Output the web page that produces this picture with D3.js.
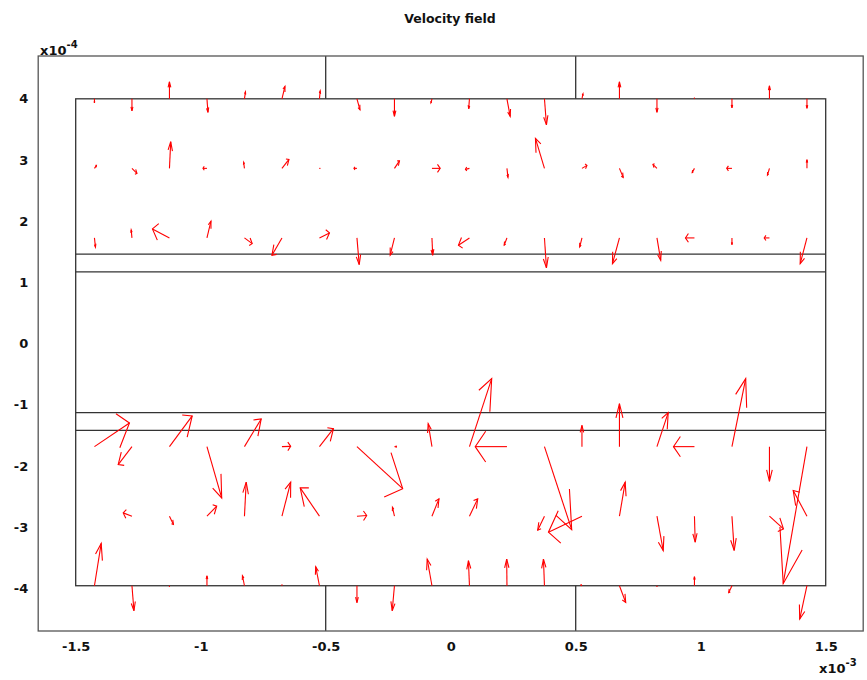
<!DOCTYPE html>
<html><head><meta charset="utf-8">
<script src="https://cdn.jsdelivr.net/npm/d3@7"></script>
<style>body{margin:0;background:#fff}svg{display:block}</style>
</head><body>
<svg id="c" width="867" height="680"></svg>
<script>
// grid (x in 1e-3 m, y in 1e-4 m)
const xCols = [-1.425,-1.275,-1.125,-0.975,-0.825,-0.675,-0.525,-0.375,-0.225,-0.075,0.075,0.225,0.375,0.525,0.675,0.825,0.975,1.125,1.275,1.425];
const yRows = [4, 2.863, 1.726, -1.686, -2.823, -3.96];
// scaled velocity components (1e-4 m), one array per row
const uRow0 = [0,0,0,0.04,0.04,0.12,0.03,0.12,0,-0.04,-0.03,0.13,0.08,0.04,0,0,0,0,0,0];
const vRow0 = [-0.065,-0.196,0.278,-0.221,0.114,0.204,0.131,-0.18,-0.286,-0.065,-0.163,-0.286,-0.425,0.082,0.278,-0.221,0.016,-0.147,0.213,-0.155];
const uRow1 = [0.08,0.2,0.05,-0.16,-0.03,0.28,0.02,-0.12,0.2,0.33,-0.16,0.04,-0.36,0.2,0.15,-0.16,-0.09,-0.21,-0.08,0];
const vRow1 = [0.049,-0.082,0.436,0,0.098,0.147,0,0,0.123,0,-0.016,-0.147,0.49,0.049,-0.147,0.065,-0.07,0,-0.11,0.142];
const uRow2 = [0.04,-0.03,-0.68,0.16,0.31,-0.4,0.4,0.09,-0.17,0.03,-0.44,-0.11,0.08,-0.09,-0.28,0.15,-0.36,0,-0.21,-0.27];
const vRow2 = [-0.152,0.131,0.147,0.273,-0.093,-0.283,0.082,-0.436,-0.283,-0.283,-0.119,-0.119,-0.49,-0.147,-0.42,-0.365,0,-0.11,0,-0.42];
const uRow3 = [1.4,-0.55,0.91,0.59,0.67,0.35,0.56,1.83,0.08,-0.15,0.89,-1.27,1.09,0,0,0.45,-0.84,0.55,0,-0.95];
const vRow3 = [0.387,-0.294,0.502,-0.839,0.453,0.005,0.294,-0.687,0,0.376,1.112,0,-1.357,0.348,0.703,0.556,0,1.112,-0.567,-2.24];
const uRow4 = [0,-0.35,0.16,0.39,0.07,0.35,-0.77,0.39,-0.08,0.28,0.33,0,-0.27,-1.34,0.23,0.25,0.03,0.09,0.56,-0.55];
const vRow4 = [0,0.054,-0.136,0.163,0.556,0.556,0.463,0.011,0.147,0.283,0.283,0,-0.229,-0.262,0.556,-0.561,-0.425,-0.561,-0.208,0.42];
const uRow5 = [0.27,0.08,0,0,-0.08,0,-0.15,0,-0.09,-0.19,-0.04,-0.01,-0.04,-0.04,0.25,0,0,-0.13,0,-0.29];
const vRow5 = [0.692,-0.409,-0.016,0.163,0.163,0.016,0.311,-0.278,-0.409,0.436,0.409,0.436,0.436,0.016,-0.273,-0.016,0.147,-0.114,0,-0.544];
const uRows = [uRow0,uRow1,uRow2,uRow3,uRow4,uRow5];
const vRows = [vRow0,vRow1,vRow2,vRow3,vRow4,vRow5];

// geometry (x in 1e-3, y in 1e-4)
const geoX = [-1.5, 1.5];
const geoY = [-3.96, 4];
const geoLinesY = [1.46, 1.17, -1.13, -1.42];
const geoStubsX = [-0.5, 0.5];

const xTicks = [-1.5,-1,-0.5,0,0.5,1,1.5];
const xTickLabels = ["-1.5","-1","-0.5","0","0.5","1","1.5"];
const yTicks = [-4,-3,-2,-1,0,1,2,3,4];
const yTickLabels = ["-4","-3","-2","-1","0","1","2","3","4"];
const title = "Velocity field";

const svg = d3.select("#c");
const L = 38.2, R = 863.2, T = 56, B = 631;
const x = d3.scaleLinear().domain([-1.65, 1.65]).range([L, R]);
const y = d3.scaleLinear().domain([-4.7, 4.7]).range([B, T]);
const font = "'DejaVu Sans', Verdana, sans-serif";

// geometry lines
const g = svg.append("g").attr("stroke", "#333").attr("stroke-width", 1.3).attr("fill", "none");
g.append("rect").attr("x", x(geoX[0])).attr("y", y(geoY[1]))
  .attr("width", x(geoX[1]) - x(geoX[0])).attr("height", y(geoY[0]) - y(geoY[1]));
geoLinesY.forEach(v => g.append("line").attr("x1", x(geoX[0])).attr("x2", x(geoX[1])).attr("y1", y(v)).attr("y2", y(v)));
geoStubsX.forEach(v => {
  g.append("line").attr("x1", x(v)).attr("x2", x(v)).attr("y1", y(geoY[1])).attr("y2", T);
  g.append("line").attr("x1", x(v)).attr("x2", x(v)).attr("y1", y(geoY[0])).attr("y2", B);
});

// arrows (MATLAB-style quiver heads computed in physical units)
const alpha = 0.33, beta = 0.6;
const ag = svg.append("g").attr("stroke", "#ff0000").attr("stroke-width", 1.1).attr("fill", "none");
yRows.forEach((yr, r) => {
  xCols.forEach((xc, c) => {
    const U = uRows[r][c], V = vRows[r][c];
    if (U === 0 && V === 0) return;
    const bx = xc * 10, by = yr;          // in 1e-4 m
    const tx = bx + U, ty = by + V;
    const h1x = tx - alpha * (U + beta * V), h1y = ty - alpha * (V - beta * U);
    const h2x = tx - alpha * (U - beta * V), h2y = ty - alpha * (V + beta * U);
    const P = (px, py) => [x(px / 10), y(py)];
    ag.append("path").attr("d", d3.line()([P(bx, by), P(tx, ty)]));
    ag.append("path").attr("d", d3.line()([P(h1x, h1y), P(tx, ty), P(h2x, h2y)]));
  });
});

// axes box
svg.append("rect").attr("x", L).attr("y", T).attr("width", R - L).attr("height", B - T)
  .attr("fill", "none").attr("stroke", "#555").attr("stroke-width", 1.3);

const xa = svg.append("g").attr("transform", `translate(0,${B})`)
  .call(d3.axisBottom(x).tickValues(xTicks).tickFormat((d, i) => xTickLabels[i]).tickSize(0).tickPadding(11));
const ya = svg.append("g").attr("transform", `translate(${L},0)`)
  .call(d3.axisLeft(y).tickValues(yTicks).tickFormat((d, i) => yTickLabels[i]).tickSize(0).tickPadding(10));
[xa, ya].forEach(a => {
  a.select(".domain").remove();
  a.selectAll("text").attr("font-family", font).attr("font-size", 13).attr("font-weight", "bold").attr("fill", "#111");
});

// exponent labels
function expLabel(xp, yp, exp) {
  const t = svg.append("text").attr("x", xp).attr("y", yp).attr("font-family", font)
    .attr("font-size", 13).attr("font-weight", "bold").attr("fill", "#111");
  t.append("tspan").text("x10");
  t.append("tspan").attr("dy", -7).attr("font-size", 10).text(exp);
}
expLabel(40, 55, "-4");
expLabel(819, 673, "-3");

svg.append("text").attr("x", 450).attr("y", 23).attr("text-anchor", "middle")
  .attr("font-family", font).attr("font-size", 12.5).attr("font-weight", "bold").attr("fill", "#111").text(title);
</script>
</body></html>
